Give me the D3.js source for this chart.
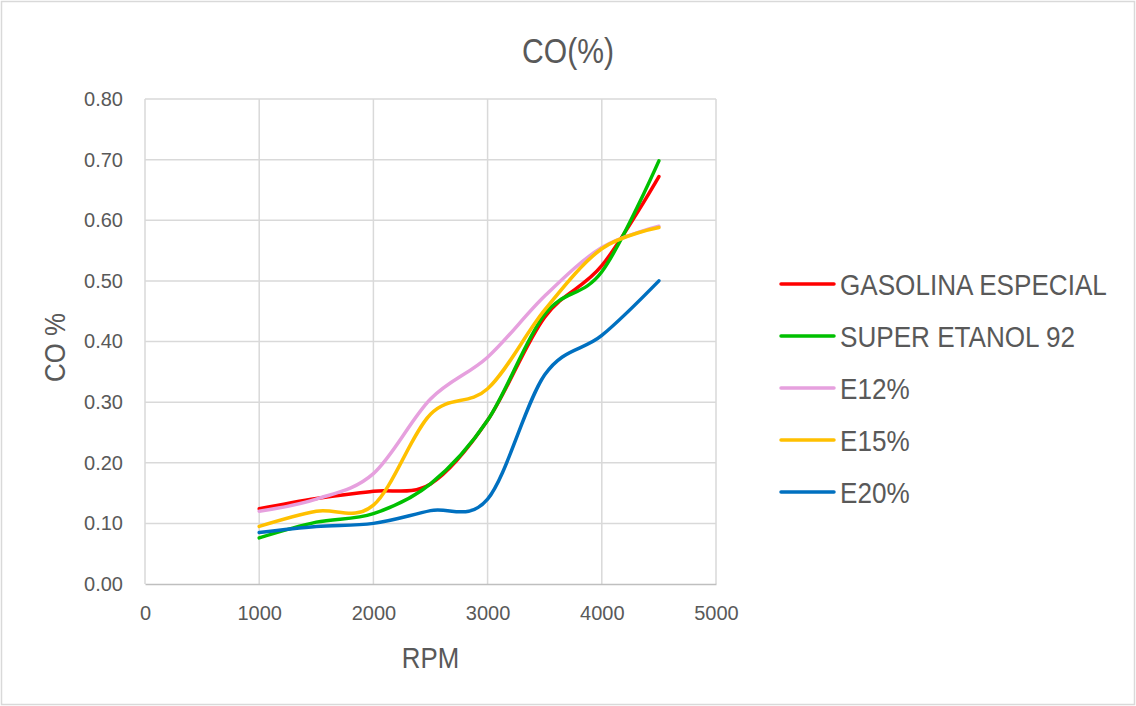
<!DOCTYPE html>
<html>
<head>
<meta charset="utf-8">
<script src="https://cdn.jsdelivr.net/npm/d3@7"></script>
<style>
  body { margin: 0; background: #fff; }
  text { font-family: "Liberation Sans", Arial, sans-serif; fill: #595959; }
</style>
</head>
<body>
<svg width="1136" height="706"></svg>
<script>
const svg = d3.select("svg");
const width = +svg.attr("width");
const height = +svg.attr("height");

// data
const rpm = [1000, 1500, 2000, 2500, 3000, 3500, 4000, 4500];
const gasolina = [0.124, 0.141, 0.153, 0.165, 0.270, 0.440, 0.525, 0.672];
const superEtanol = [0.076, 0.102, 0.116, 0.165, 0.270, 0.445, 0.515, 0.698];
const e12 = [0.120, 0.140, 0.182, 0.305, 0.374, 0.475, 0.555, 0.590];
const e15 = [0.095, 0.120, 0.130, 0.280, 0.322, 0.452, 0.553, 0.588];
const e20 = [0.085, 0.095, 0.100, 0.121, 0.140, 0.345, 0.410, 0.500];
const seriesNames = ["GASOLINA ESPECIAL", "SUPER ETANOL 92", "E12%", "E15%", "E20%"];
const seriesColors = ["#FF0000", "#00C000", "#E6A0DE", "#FFC000", "#0070C0"];
const xTicks = [0, 1000, 2000, 3000, 4000, 5000];
const yTicks = [0, 0.1, 0.2, 0.3, 0.4, 0.5, 0.6, 0.7, 0.8];

const series = [gasolina, superEtanol, e12, e15, e20].map((vals, i) => ({
    name: seriesNames[i],
    color: seriesColors[i],
    values: rpm.map((r, j) => ({ x: r, y: vals[j] }))
}));

const margin = { top: 99, right: 420, bottom: 122, left: 145 };
const innerWidth = width - margin.left - margin.right;
const innerHeight = height - margin.top - margin.bottom;

// chart border
svg.append("rect")
    .attr("x", 1.5).attr("y", 1.5)
    .attr("width", width - 3).attr("height", height - 3)
    .attr("fill", "#fff")
    .attr("stroke", "#D9D9D9")
    .attr("stroke-width", 1.5);

const xScale = d3.scaleLinear().domain([0, 5000]).range([0, innerWidth]);
const yScale = d3.scaleLinear().domain([0, 0.8]).range([innerHeight, 0]);

const g = svg.append("g")
    .attr("transform", `translate(${margin.left}, ${margin.top})`);

// gridlines
g.selectAll(".hgrid")
    .data(yTicks.slice(1))
    .enter().append("line")
    .attr("x1", 0).attr("x2", innerWidth)
    .attr("y1", d => yScale(d)).attr("y2", d => yScale(d))
    .attr("stroke", "#D9D9D9").attr("stroke-width", 1.5);

g.selectAll(".vgrid")
    .data(xTicks)
    .enter().append("line")
    .attr("x1", d => xScale(d)).attr("x2", d => xScale(d))
    .attr("y1", 0).attr("y2", innerHeight)
    .attr("stroke", "#D9D9D9").attr("stroke-width", 1.5);

const xAxis = d3.axisBottom(xScale).tickValues(xTicks).tickSize(0).tickPadding(22).tickFormat(d3.format("d"));
const yAxis = d3.axisLeft(yScale).tickValues(yTicks).tickSize(0).tickPadding(22).tickFormat(d3.format(".2f"));

const xAxisG = g.append("g")
    .attr("transform", `translate(0, ${innerHeight})`)
    .call(xAxis)
    .attr("font-size", null)
    .attr("font-family", null)
    .attr("fill", null);
xAxisG.select(".domain").attr("fill", "none").attr("stroke", "#BFBFBF").attr("stroke-width", 1.5);

const yAxisG = g.append("g")
    .call(yAxis)
    .attr("font-size", null)
    .attr("font-family", null)
    .attr("fill", null);
yAxisG.select(".domain").remove();

g.selectAll(".tick text")
    .attr("fill", "#595959")
    .style("font-size", "20px");

// lines
const line = d3.line()
    .x(d => xScale(d.x))
    .y(d => yScale(d.y))
    .curve(d3.curveCardinal.tension(0));

g.selectAll(".series")
    .data(series)
    .enter().append("path")
    .attr("fill", "none")
    .attr("stroke", d => d.color)
    .attr("stroke-width", 3.5)
    .attr("stroke-linecap", "round")
    .attr("d", d => line(d.values));

// title
svg.append("text")
    .attr("transform", "translate(568, 63) scale(0.86, 1)")
    .attr("text-anchor", "middle")
    .style("font-size", "35px")
    .text("CO(%)");

// axis titles
svg.append("text")
    .attr("transform", `translate(${margin.left + innerWidth / 2}, 668) scale(0.86, 1)`)
    .attr("text-anchor", "middle")
    .style("font-size", "30px")
    .text("RPM");

svg.append("text")
    .attr("transform", `translate(65, ${margin.top + innerHeight / 2 + 6}) rotate(-90) scale(0.86, 1)`)
    .attr("text-anchor", "middle")
    .style("font-size", "30px")
    .text("CO %");

// legend
const legend = svg.append("g").attr("transform", "translate(781, 284)");
const item = legend.selectAll(".item")
    .data(series)
    .enter().append("g")
    .attr("transform", (d, i) => `translate(0, ${i * 52})`);

item.append("line")
    .attr("x1", 0).attr("x2", 53)
    .attr("stroke", d => d.color)
    .attr("stroke-width", 3.5)
    .attr("stroke-linecap", "round");

item.append("text")
    .attr("transform", "translate(59, 11) scale(0.87, 1)")
    .style("font-size", "30px")
    .text(d => d.name);
</script>
</body>
</html>
